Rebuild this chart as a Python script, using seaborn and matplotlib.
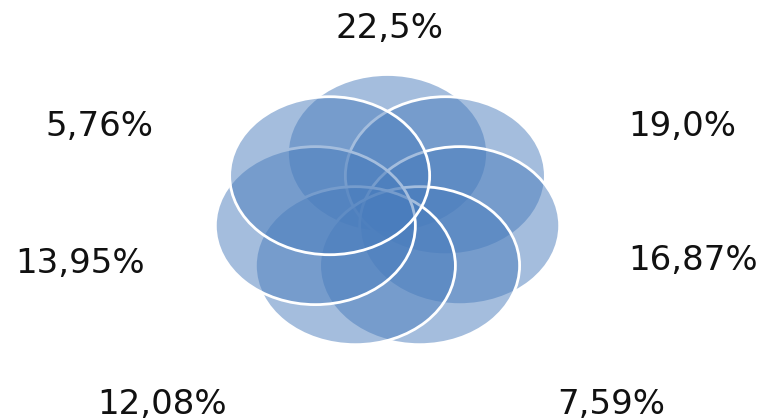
import numpy as np
import matplotlib
matplotlib.use("Agg")
import matplotlib.pyplot as plt
from matplotlib.patches import Ellipse
import seaborn as sns

# Vrijednosti (u smjeru kazaljke, od vrha)
values = [22.5, 19.0, 16.87, 7.59, 12.08, 13.95, 5.76]
labels = ["22,5%", "19,0%", "16,87%", "7,59%", "12,08%", "13,95%", "5,76%"]

# raspored oznaka (piksel koordinate)
label_x = [389, 682, 693, 611, 162, 80, 99]
label_y = [28, 126, 260, 404, 404, 263, 126]

sns.set_theme(style="white")
plt.rcParams['font.family'] = ['DejaVu Sans']

fig = plt.figure(figsize=(7.71, 4.19), dpi=100)
ax = fig.add_axes([0, 0, 1, 1])
ax.set_xlim(0, 771)
ax.set_ylim(419, 0)
ax.axis('off')

# cvijet od elipsa
cx, cy = 387.5, 212.5
rx, ry = 74.0, 59.0
w, h = 200, 158
n = len(values)
for i in range(n):
    ang = np.pi / 2 - 2 * np.pi * i / n
    ex = cx + rx * np.cos(ang)
    ey = cy - ry * np.sin(ang)
    ax.add_patch(Ellipse((ex, ey), w, h, facecolor='#4a7dbd', alpha=0.5,
                         edgecolor='none', zorder=2 + i))
    ax.add_patch(Ellipse((ex, ey), w, h, facecolor='none',
                         edgecolor='white', lw=2.0, zorder=2 + i))

for lab, x, y in zip(labels, label_x, label_y):
    ax.text(x, y, lab, ha='center', va='center', fontsize=24.5, color='#111111')

fig.savefig('out.png', dpi=100)
